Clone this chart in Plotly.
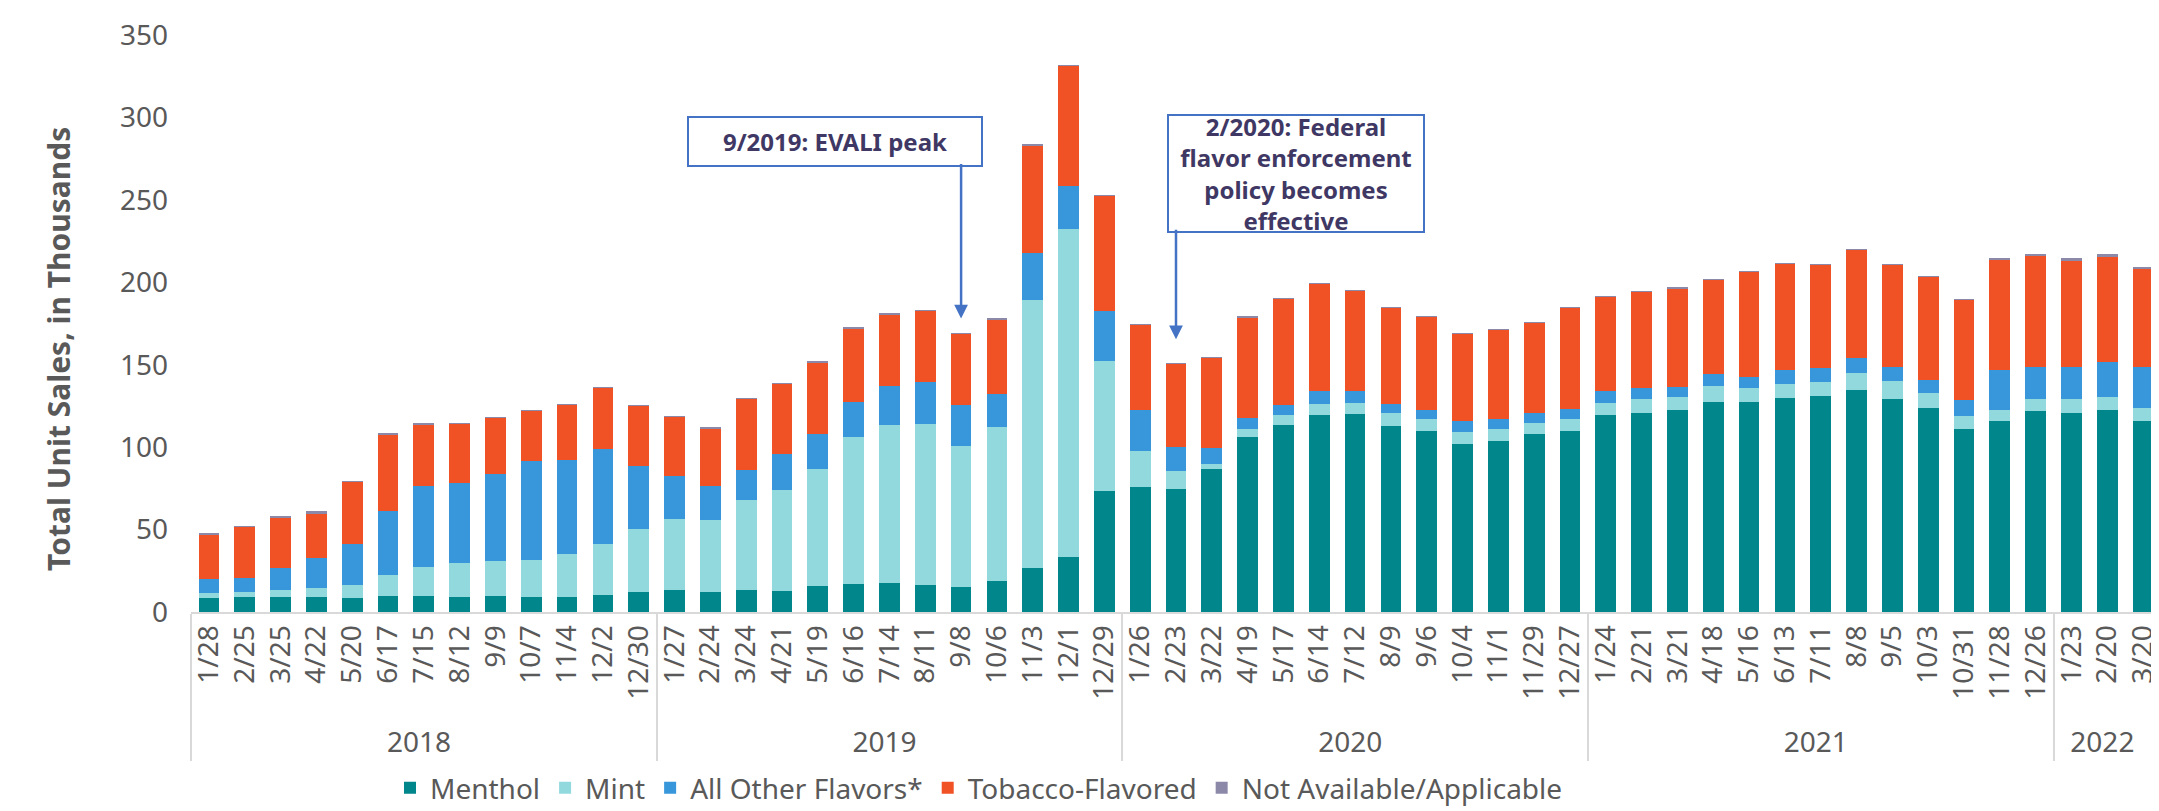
"""Unit sales of e-cigarettes by flavor, 4-week periods, 2018-2022."""
import plotly.graph_objects as go

PALETTE = {
    "menthol": "#00868B",
    "mint": "#92D9DE",
    "other": "#3797DA",
    "tobacco": "#F05125",
    "na": "#8C89A8",
    "text": "#595959",
    "axis": "#D9D9D9",
    "note": "#3F3864",
    "note_line": "#4472C4",
}
FONT = "Noto Sans, Tahoma, DejaVu Sans, sans-serif"

years = ["2018", "2019", "2020", "2021", "2022"]
periods_per_year = [13, 13, 13, 13, 3]
periods = [
    "1/28", "2/25", "3/25", "4/22", "5/20", "6/17", "7/15", "8/12", "9/9", "10/7", "11/4", "12/2", "12/30",
    "1/27", "2/24", "3/24", "4/21", "5/19", "6/16", "7/14", "8/11", "9/8", "10/6", "11/3", "12/1", "12/29",
    "1/26", "2/23", "3/22", "4/19", "5/17", "6/14", "7/12", "8/9", "9/6", "10/4", "11/1", "11/29", "12/27",
    "1/24", "2/21", "3/21", "4/18", "5/16", "6/13", "7/11", "8/8", "9/5", "10/3", "10/31", "11/28", "12/26",
    "1/23", "2/20", "3/20",
]

# unit sales, thousands
menthol = [
    8.7, 8.9, 9.3, 9.3, 8.5, 9.9, 9.7, 9.3, 9.7, 9.1, 9.1, 10.1, 11.9,
    13.5, 12.4, 13.3, 13.0, 15.6, 17.2, 17.8, 16.2, 15.3, 19.0, 26.8, 33.2, 73.4,
    75.7, 74.8, 86.7, 106.4, 113.2, 119.6, 120.1, 113.0, 109.6, 102.2, 103.8, 108.0, 109.6,
    119.6, 121.0, 122.4, 127.4, 127.4, 129.9, 130.8, 134.7, 129.5, 124.0, 110.9, 116.0, 121.7,
    120.8, 122.6, 116.0,
]
mint = [
    3.0, 3.4, 3.9, 5.1, 7.9, 12.5, 17.6, 20.4, 21.5, 22.7, 26.1, 31.0, 38.4,
    42.8, 43.4, 54.6, 61.3, 71.1, 89.2, 95.4, 97.7, 85.6, 93.3, 162.6, 199.0, 78.7,
    22.2, 10.5, 3.2, 4.8, 6.4, 6.4, 6.6, 8.0, 7.7, 7.1, 7.4, 6.6, 7.3,
    7.1, 8.5, 8.0, 9.4, 8.7, 8.7, 8.7, 10.3, 10.9, 8.9, 7.8, 6.8, 7.5,
    8.7, 7.8, 7.7,
]
other_flavors = [
    8.1, 8.5, 13.7, 18.2, 25.1, 39.1, 49.2, 48.4, 52.8, 59.5, 57.1, 57.6, 38.4,
    26.0, 20.6, 18.3, 21.3, 21.0, 21.2, 23.6, 25.6, 24.4, 19.7, 28.3, 26.3, 30.7,
    24.9, 14.9, 9.6, 6.6, 6.2, 8.3, 7.1, 5.0, 5.5, 6.4, 5.7, 5.9, 6.2,
    7.1, 6.6, 6.2, 7.3, 6.6, 8.2, 8.3, 8.9, 8.3, 7.8, 10.1, 24.3, 19.2,
    18.9, 21.5, 25.0,
]
tobacco = [
    26.9, 31.2, 30.2, 27.3, 37.4, 46.4, 37.0, 36.4, 33.8, 30.9, 33.4, 37.3, 36.6,
    36.4, 35.2, 43.0, 43.0, 43.9, 44.2, 43.7, 43.3, 43.5, 45.7, 65.5, 72.7, 69.7,
    51.5, 50.5, 54.9, 61.1, 64.5, 64.7, 61.3, 58.4, 56.5, 53.3, 54.2, 54.9, 61.5,
    57.6, 58.3, 59.9, 57.6, 63.6, 64.3, 62.9, 66.1, 62.0, 62.9, 60.8, 67.0, 67.3,
    64.8, 64.0, 59.4,
]
not_available = [
    1.3, 0.1, 1.2, 1.2, 0.1, 0.1, 1.2, 0.1, 0.1, 0.1, 0.1, 0.1, 0.1,
    0.1, 0.1, 0.1, 0.1, 0.1, 0.9, 1.1, 0.1, 0.1, 0.1, 0.1, 0.1, 0.1,
    0.1, 0.1, 0.1, 0.1, 0.1, 0.1, 0.1, 0.1, 0.1, 0.1, 0.1, 0.1, 0.1,
    0.1, 0.1, 0.1, 0.1, 0.1, 0.1, 0.1, 0.1, 0.1, 0.1, 0.1, 0.1, 1.4,
    1.3, 1.2, 1.2,
]

year_of_period = [y for y, n in zip(years, periods_per_year) for _ in range(n)]
x = [year_of_period, periods]

series = [
    ("Menthol", menthol, PALETTE["menthol"]),
    ("Mint", mint, PALETTE["mint"]),
    ("All Other Flavors*", other_flavors, PALETTE["other"]),
    ("Tobacco-Flavored", tobacco, PALETTE["tobacco"]),
    ("Not Available/Applicable", not_available, PALETTE["na"]),
]

fig = go.Figure()
for name, vals, color in series:
    fig.add_trace(go.Bar(x=x, y=vals, name=name, marker_color=color, marker_line_width=0))

fig.update_layout(
    barmode="stack",
    bargap=0.42,
    width=2159,
    height=811,
    paper_bgcolor="white",
    plot_bgcolor="white",
    font=dict(family=FONT, color=PALETTE["text"], size=28),
    margin=dict(l=183, r=6, t=27, b=194),
    legend=dict(
        orientation="h",
        traceorder="normal",
        x=0.40,
        xanchor="center",
        y=-0.262,
        yanchor="top",
        font=dict(size=28, color=PALETTE["text"]),
        bgcolor="rgba(0,0,0,0)",
    ),
    showlegend=True,
)

fig.update_xaxes(
    tickangle=-90,
    tickfont=dict(size=28, color=PALETTE["text"]),
    showline=True,
    linecolor=PALETTE["axis"],
    linewidth=2,
    showgrid=False,
    showdividers=True,
    dividercolor=PALETTE["axis"],
    dividerwidth=2,
    ticks="",
    range=[-0.5, 54.5],
)
fig.update_yaxes(
    range=[0, 350],
    dtick=50,
    showgrid=False,
    showline=False,
    zeroline=False,
    ticks="",
    ticklabelstandoff=22,
    tickfont=dict(size=28, color=PALETTE["text"]),
)

# y-axis title
fig.add_annotation(
    text="<b>Total Unit Sales, in Thousands</b>",
    xref="paper", yref="paper", x=-0.0784, y=0.456,
    textangle=-90, showarrow=False,
    font=dict(size=30, color=PALETTE["text"], family=FONT),
)

note_font = dict(size=24, color=PALETTE["note"], family=FONT)
fig.add_annotation(
    text="<b>9/2019: EVALI peak</b>",
    xref="x", yref="y", x=17.48, y=285.3,
    showarrow=False, width=290, height=45,
    bgcolor="white", bordercolor=PALETTE["note_line"], borderwidth=2,
    font=note_font,
)
fig.add_annotation(
    text="", xref="x", yref="y", x=21, y=178,
    ax=0, ay=-156, showarrow=True, arrowhead=2, arrowsize=1.1,
    arrowwidth=2.5, arrowcolor=PALETTE["note_line"],
)
fig.add_annotation(
    text="<b>2/2020: Federal<br>flavor enforcement<br>policy becomes<br>effective</b>",
    xref="x", yref="y", x=30.34, y=266,
    showarrow=False, width=252, height=113,
    bgcolor="white", bordercolor=PALETTE["note_line"], borderwidth=2,
    font=note_font,
)
fig.add_annotation(
    text="", xref="x", yref="y", x=27, y=165.5,
    ax=0, ay=-111, showarrow=True, arrowhead=2, arrowsize=1.1,
    arrowwidth=2.5, arrowcolor=PALETTE["note_line"],
)

fig.write_html("out.html")
